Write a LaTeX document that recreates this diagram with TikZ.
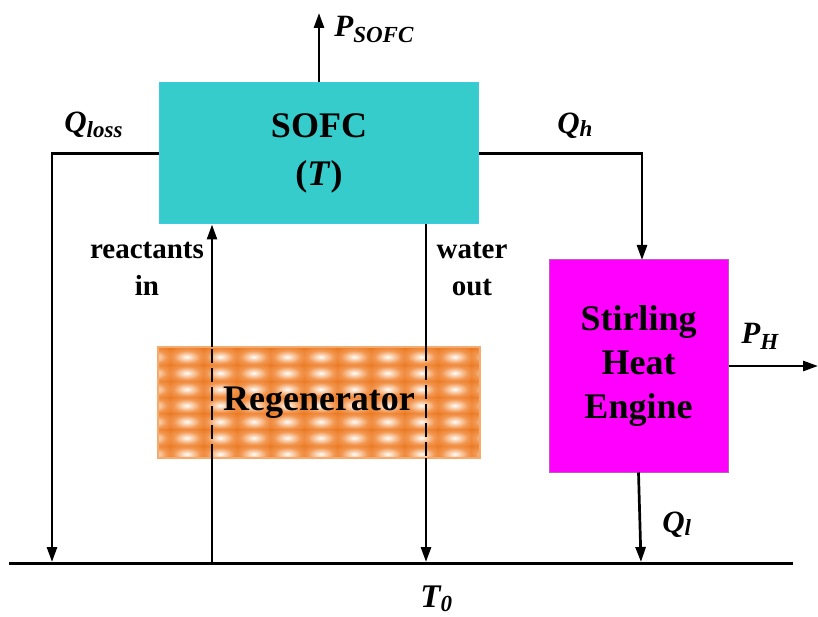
\documentclass[tikz,border=0pt]{standalone}
\usepackage{fontspec}
\setmainfont{Liberation Serif}
\usetikzlibrary{arrows.meta}
\definecolor{sofcc}{RGB}{54,204,204}
\definecolor{sofcb}{RGB}{60,200,240}
\definecolor{stirc}{RGB}{255,0,255}
\definecolor{stirb}{RGB}{190,90,190}
\definecolor{regdark}{RGB}{234,118,28}
\definecolor{regmid}{RGB}{242,150,80}
\definecolor{reglight}{RGB}{251,215,185}
\definecolor{regbord}{RGB}{245,170,110}
\pgfdeclareradialshading{tileshade}{\pgfpoint{0bp}{0bp}}{color(0bp)=(white); color(7bp)=(reglight); color(20bp)=(regmid); color(38bp)=(regdark); color(100bp)=(regdark)}
\newcommand{\lowsub}[2]{\raisebox{-#1}{\fontsize{23}{23}\selectfont #2}}
\begin{document}
\begin{tikzpicture}[x=1pt,y=-1pt,line width=2.7pt,
  arr/.style={-{Triangle[length=15pt,width=10pt]}},
  lbl/.style={font=\fontsize{31}{31}\selectfont\bfseries\itshape,inner sep=0,anchor=base west},
  boxtxt/.style={font=\fontsize{36}{44}\selectfont\bfseries,align=center,inner sep=0},
  flowtxt/.style={font=\fontsize{29}{37}\selectfont\bfseries,align=center,inner sep=0,anchor=base},
  dsh/.style={dash pattern=on 14pt off 5pt}]
\useasboundingbox (0,0) rectangle (818,617);

% boxes
\node[boxtxt,draw=sofcb,line width=1pt,fill=sofcc,minimum width=319pt,minimum height=141pt] (sofc) at (319,153.5) {SOFC\\[4pt](\textit{T})};
\node[boxtxt,draw=stirb,line width=1pt,fill=stirc,minimum width=179pt,minimum height=212pt] (stirling) at (638.5,366) {Stirling\\Heat\\Engine};

% regenerator pattern
\begin{scope}
  \clip (158,347) rectangle (480,458);
  \fill[regdark] (158,347) rectangle (480,458);
  \foreach \i in {0,...,10} {
    \foreach \j in {0,...,7} {
      \shade[shading=tileshade]
        ({136.5+33.5*\i},{332.6+16.2*\j}) rectangle ({136.5+33.5*(\i+1)},{332.6+16.2*(\j+1)});
    }
  }
\end{scope}
\node[boxtxt,draw=regbord,line width=1.5pt,minimum width=322pt,minimum height=111pt] (regen) at (319,402.5) {Regenerator};

% ground
\coordinate (gL) at (9,563);
\coordinate (gR) at (793,563);
\draw[line width=3pt] (gL) -- (gR);

% Q_loss
\coordinate (lossEnd) at (52,562);
\draw[arr] (sofc.west) -| (lossEnd);
% Q_h
\coordinate (hIn) at (642,260);
\draw[arr] (sofc.east) -| (hIn);
% P_SOFC
\coordinate (psTop) at (319,13);
\draw[arr] (sofc.north) -- (psTop);
% P_H
\coordinate (phEnd) at (818,366);
\draw[arr] (stirling.east) -- (phEnd);
% Q_l
\coordinate (qlEnd) at (641,562);
\draw[arr] (stirling.south) -- (qlEnd);

% reactants in
\coordinate (rBot) at (212,563);
\coordinate (rA) at (212,458);
\coordinate (rB) at (212,347);
\draw (rBot) -- (rA);
\draw[dsh] (rA) -- (rB);
\draw[arr] (rB) -- (rB |- sofc.south);

% water out
\coordinate (wA) at (426,347);
\coordinate (wB) at (426,458);
\coordinate (wEnd) at (426,562);
\draw (wA |- sofc.south) -- (wA);
\draw[dsh] (wA) -- (wB);
\draw[arr] (wB) -- (wEnd);

% labels
\node[lbl] (lpsofc) at (333,37) {P\lowsub{6pt}{SOFC}};
\node[lbl] (lqloss) at (63,133) {Q\lowsub{5pt}{loss}};
\node[lbl] (lqh) at (556,134) {Q\lowsub{3pt}{h}};
\node[lbl] (lph) at (740,343) {P\lowsub{6pt}{H}};
\node[lbl] (lql) at (661,532) {Q\lowsub{3pt}{l}};
\node[lbl,font=\fontsize{33}{33}\selectfont\bfseries\itshape] (lt0) at (419,607) {T\lowsub{4pt}{0}};
\node[flowtxt] (lreact) at (147,295) {reactants\\in};
\node[flowtxt] (lwater) at (472,295) {water\\out};
\end{tikzpicture}
\end{document}
